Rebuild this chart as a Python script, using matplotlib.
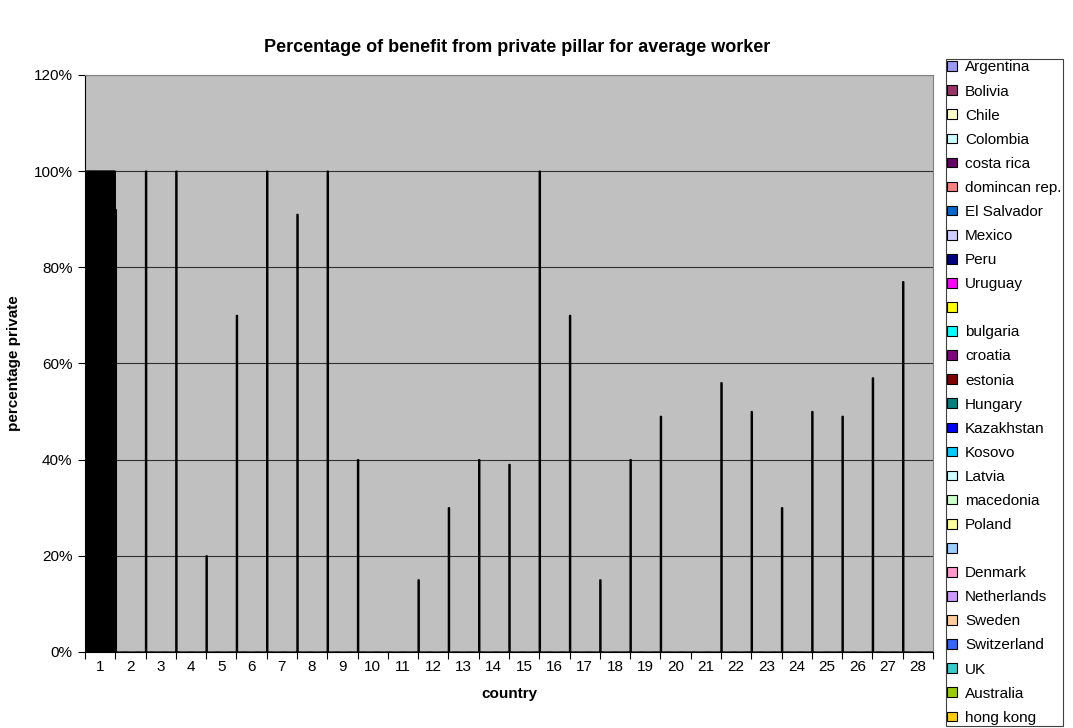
import numpy as np
import matplotlib
matplotlib.use("Agg")
from matplotlib import pyplot as plt
from matplotlib.patches import Patch

plt.rcParams["font.family"] = ["Liberation Sans", "DejaVu Sans"]

# legend entries (two are blank in the sheet)
series_names = [
    "Argentina", "Bolivia", "Chile", "Colombia", "costa rica", "domincan rep.",
    "El Salvador", "Mexico", "Peru", "Uruguay", "", "bulgaria", "croatia",
    "estonia", "Hungary", "Kazakhstan", "Kosovo", "Latvia", "macedonia",
    "Poland", "", "Denmark", "Netherlands", "Sweden", "Switzerland", "UK",
    "Australia", "hong kong",
]
series_colors = [
    "#9999FF", "#993366", "#FFFFCC", "#CCFFFF", "#660066", "#FF8080",
    "#0066CC", "#CCCCFF", "#000080", "#FF00FF", "#FFFF00", "#00FFFF",
    "#800080", "#800000", "#008080", "#0000FF", "#00CCFF", "#CCFFFF",
    "#CCFFCC", "#FFFF99", "#99CCFF", "#FF99CC", "#CC99FF", "#FFCC99",
    "#3366FF", "#33CCCC", "#99CC00", "#FFCC00",
]
countries = [str(i) for i in range(1, 29)]

# private share in the first column, one value per series
first_country = [0.51] + [1.0] * 27
# the first series runs across every country
argentina_row = [
    0.51, 0.92, 1.00, 1.00, 0.20, 0.70, 1.00, 0.91, 1.00, 0.40, 0.00, 0.15,
    0.30, 0.40, 0.39, 1.00, 0.70, 0.15, 0.40, 0.49, 0.00, 0.56, 0.50, 0.30,
    0.50, 0.49, 0.57, 0.77,
]

n_series = len(series_names)
n_cat = len(countries)
values = np.zeros((n_series, n_cat))
values[:, 0] = first_country
values[0, :] = argentina_row

fig = plt.figure(figsize=(10.73, 7.28), dpi=100)
ax = fig.add_axes([0.0792, 0.1044, 0.7903, 0.7926])
ax.set_facecolor("#C0C0C0")

x = np.arange(n_cat)
w = 1.0 / n_series
for k in range(n_series):
    bars = ax.bar(x - 0.5 + (k + 0.5) * w, values[k], width=w,
                  color=series_colors[k], linewidth=0, zorder=3)
    for b in bars:
        b.set_snap(False)
# black outlines go on top of every fill
for k in range(n_series):
    bars = ax.bar(x - 0.5 + (k + 0.5) * w, values[k], width=w,
                  facecolor="none", edgecolor="black", linewidth=1.0, zorder=4)
    for b in bars:
        b.set_snap(False)

ax.set_xlim(-0.5, n_cat - 0.5)
ax.set_ylim(0, 1.2)
yt = np.arange(0, 1.21, 0.2)
ax.set_yticks(yt)
ax.set_yticklabels([f"{int(round(v * 100))}%" for v in yt], fontsize=11)
ax.yaxis.grid(True, color="#303030", linewidth=0.8, zorder=1)

# tick marks between countries, labels under each one
ax.set_xticks(np.arange(-0.5, n_cat, 1.0))
ax.set_xticklabels([])
ax.set_xticks(x, minor=True)
ax.set_xticklabels(countries, minor=True, fontsize=11)
ax.tick_params(axis="x", which="minor", length=0, pad=6)
ax.tick_params(axis="x", which="major", length=5, direction="out", color="black")
ax.tick_params(axis="y", length=5, direction="out", pad=4)

for side in ("top", "right"):
    ax.spines[side].set_color("#808080")
for side in ("left", "bottom"):
    ax.spines[side].set_color("black")

ax.set_xlabel("country", fontsize=11, fontweight="bold", labelpad=9)
ax.set_ylabel("percentage private", fontsize=11, fontweight="bold", labelpad=9)

fig.text(0.482, 0.935, "Percentage of benefit from private pillar for average worker",
         ha="center", va="center", fontsize=13, fontweight="bold")

handles = [Patch(facecolor=c, edgecolor="black", linewidth=0.8) for c in series_colors]
leg = fig.legend(handles, series_names, loc="upper left",
                 bbox_to_anchor=(0.8816, 0.919), fontsize=11,
                 handlelength=0.6, handleheight=0.6, handletextpad=0.55,
                 labelspacing=0.66, borderpad=0.1, borderaxespad=0,
                 fancybox=False, framealpha=1)
leg.get_frame().set_edgecolor("#404040")
leg.get_frame().set_linewidth(0.8)

fig.savefig("out.png", dpi=100)
